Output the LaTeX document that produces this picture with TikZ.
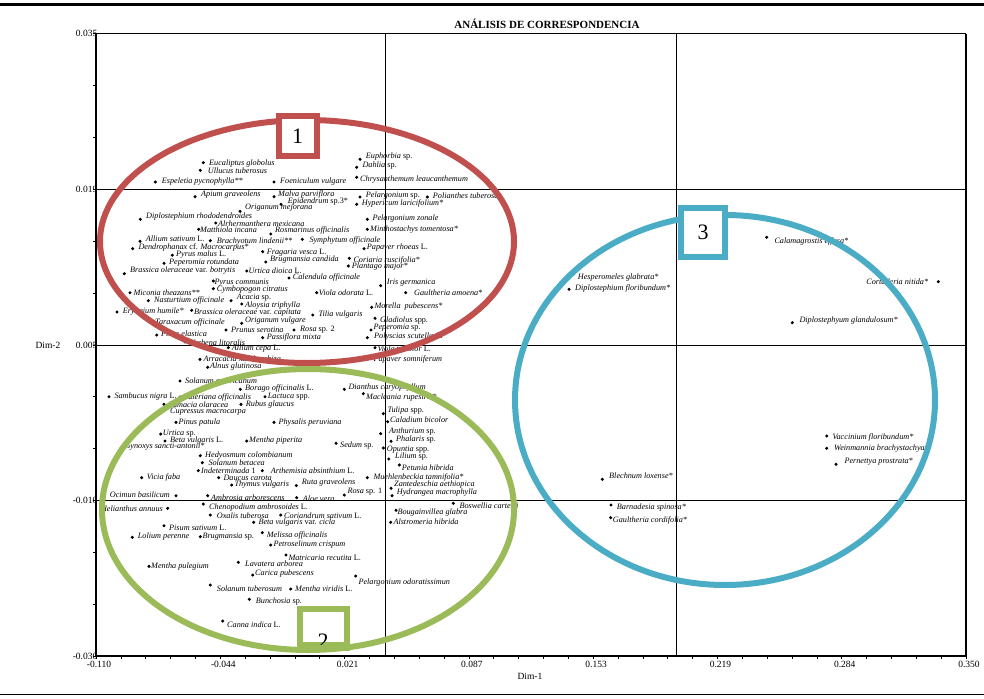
\documentclass[tikz,border=0pt]{standalone}
\usepackage{fontspec}
\setmainfont{Liberation Serif}
\definecolor{ered}{HTML}{C0504D}
\definecolor{egreen}{HTML}{9BBB59}
\definecolor{eblue}{HTML}{4BACC6}
\newcount\pc
\newcommand\up[1]{\textup{#1}}
\newcommand\spec[6][west]{\global\advance\pc by 1
  \node[dotn] (p\the\pc) at (#2,#3) {};
  \node[lab,anchor=#1] (l\the\pc) at (#4,#5) {#6};}
\begin{document}
\begin{tikzpicture}[x=1pt,y=-1pt,
  lab/.style={font=\fontsize{8.2}{9}\selectfont\itshape, inner sep=0pt},
  dotn/.style={circle,fill=black,inner sep=0pt,minimum size=3.4pt},
  tick/.style={font=\fontsize{9.5}{11}\selectfont, inner sep=0pt},
  grid/.style={line width=0.8pt},
  ell/.style={line width=6pt},
  numbox/.style={line width=6pt, fill=white, inner sep=0pt, font=\fontsize{22}{24}\selectfont}]
\useasboundingbox (0,0) rectangle (984,698);
\draw[line width=3pt] (0,4.5) -- (984,4.5);
\draw[line width=1pt] (0,694.5) -- (984,694.5);
% title
\node[font=\fontsize{11}{13}\selectfont\bfseries, inner sep=0pt] (title) at (547,24) {ANÁLISIS DE CORRESPONDENCIA};
% grid
\draw[grid] (96,189.3) -- (966,189.3);
\draw[grid] (96,345) -- (966,345);
\draw[grid] (96,500.5) -- (966,500.5);
\draw[grid] (385.7,33.7) -- (385.7,656);
\draw[grid] (676,33.7) -- (676,656);
% ticks
\foreach \i in {0,...,35} \draw[line width=0.7pt] (96+\i*24.857,656) -- ++(0,3);
\foreach \i in {0,...,12} \draw[line width=0.7pt] (96,33.7+\i*51.86) -- ++(-3,0);
% tick labels
\foreach \v [count=\k from 0] in {-0.110,-0.044,0.021,0.087,0.153,0.219,0.284,0.350}
  \node[tick] (xt\k) at (99+\k*124.29,664) {\v};
\foreach \v/\yy [count=\k] in {0.035/33.7,0.019/189.3,0.005/345,-0.010/500.5,-0.030/656}
  \node[tick,anchor=east] (yt\k) at (97.5,\yy) {\v};
\node[tick] (dim1) at (530,676) {Dim-1};
\node[tick] (dim2) at (48,345) {Dim-2};
% frame
\draw[line width=0.8pt] (96,33.7) -- (966,33.7);
\draw[line width=1.5pt] (96,33.7) -- (96,656) -- (966,656) -- (966,33.7);
% group 1
\spec{203.3}{162.7}{209}{164}{Eucaliptus globolus}
\spec{200.3}{170.3}{207.7}{171}{Ullucus tuberosus}
\spec{155.3}{182}{161.7}{182}{Espeletia pycnophylla**}
\spec{274}{182}{280}{182}{Foeniculum vulgare}
\spec{360}{159.3}{365.7}{156.5}{Euphorbia \up{sp.}}
\spec{356.7}{167.3}{362.3}{166}{Dahlia \up{sp.}}
\spec{356.7}{177.3}{360}{179.5}{Chrysanthemum leaucanthemum}
\spec{195}{196.7}{201}{194.5}{Apium graveolens}
\spec{274}{196.7}{278}{194.5}{Malva parviflora}
\spec{281}{204.3}{287.7}{201.5}{Epidendrum \up{sp.3*}}
\spec{360}{197}{365.7}{196}{Pelargonium \up{sp.}}
\spec{427.3}{197}{432.7}{196}{Polianthes tuberosa}
\spec{356.7}{204.3}{361.7}{203}{Hypericum laricifolium*}
\spec{240}{211.3}{245}{208}{Origanum mejorana}
\spec{140.3}{219.3}{146}{217}{Diplostephium rhododendroides}
\spec{215.7}{223}{218}{223.5}{Alrhermanthera mexicana}
\spec{367.3}{219.3}{372.3}{218.5}{Pelargonium zonale}
\spec{198.7}{229.3}{200}{230}{Matthiola incana}
\spec{270.7}{234}{275}{230}{Rosmarinus officinalis}
\spec{367.3}{229.3}{370}{230}{Minthostachys tomentosa*}
\spec{140}{241.3}{145.7}{239}{Allium sativum \up{L.}}
\spec{210.3}{240.7}{216.7}{242}{Brachyotum lindenii**}
\spec{302.3}{239.3}{309.3}{240}{Symphytum officinale}
\spec{132.7}{248.7}{138.3}{247}{Dendrophanax \up{cf.} Macrocarpus*}
\spec{364}{248.7}{366.7}{247.5}{Papaver rhoeas \up{L.}}
\spec{172.3}{255.2}{176}{255}{Pyrus malus \up{L.}}
\spec{262.7}{251.7}{266.7}{253}{Fragaria vesca \up{L.}}
\spec{265.7}{262}{270}{260}{Brugmansia candida}
\spec{349.3}{258.3}{353.3}{260.5}{Coriaria ruscifolia*}
\spec{164}{263.3}{169}{263}{Peperomia rotundata}
\spec{348.3}{266}{351.7}{267}{Plantago major*}
\spec{124.3}{273.7}{130}{270.5}{Brassica oleraceae \up{var.} botrytis}
\spec{246.7}{271}{248.3}{270.5}{Urtica dioica \up{L.}}
\spec{289}{278}{292.7}{277.5}{Calendula officinale}
\spec{213.3}{281}{214.3}{283}{Pyrus communis}
\spec{380.7}{285.7}{386.7}{283}{Iris germanica}
\spec{213.3}{288.7}{216.7}{289.5}{Cymbopogon citratus}
\spec{130}{292.7}{133.3}{293}{Miconia theazans**}
\spec{316.7}{292.7}{318.7}{293}{Viola odorata \up{L.}}
\spec{405.7}{292.7}{414}{293}{Gaultheria amoena*}
\spec{148.3}{300.7}{154}{300}{Nasturtium officinale}
\spec{231}{300.7}{236.7}{297.5}{Acacia \up{sp.}}
\spec{241.7}{304}{245}{305.5}{Aloysia triphylla}
\spec{371.7}{307.3}{374.3}{306.5}{Morella\ \ pubescens*}
\spec{117}{312}{122.7}{312}{Eryngium humile*}
\spec{191.7}{310.3}{194}{312.5}{Brassica oleraceae \up{var.} capitata}
\spec{312.7}{315}{318.3}{314.5}{Tilia vulgaris}
\spec{375}{318.3}{380}{320.5}{Gladiolus \up{spp.}}
\spec{150}{321}{155}{322}{Taraxacum officinale}
\spec{241.7}{323.3}{245}{320.5}{Origanum vulgare}
\spec{226}{330}{231}{330}{Prunus serotina}
\spec{294}{330}{300}{330}{Rosa \up{sp. 2}}
\spec{371}{330}{373.3}{328}{Peperomia \up{sp.}}
\spec{156.7}{335}{161}{334}{Ficus elastica}
\spec{262.7}{337.7}{266.7}{337}{Passiflora mixta}
\spec{367.3}{337.7}{374}{337}{Polyscias scutellaria}
\spec{185}{342}{190}{342.5}{Verbena litoralis}
\spec{228.3}{347.7}{231.7}{348.5}{Allium cepa \up{L.}}
\spec{375}{347.7}{377.3}{349}{Viola tricolor \up{L.}}
\spec{200}{359.3}{203.3}{359}{Arracacia xanthorrhiza}
\spec{367.3}{358.3}{373.3}{359}{Papaver somniferum}
\spec{207.7}{367.3}{210}{367}{Alnus glutinosa}
% group 2
\spec{180}{381}{185}{381}{Solanum americanum}
\spec{240.3}{389.3}{245}{388}{Borago officinalis \up{L.}}
\spec{344.3}{389.3}{348.3}{388}{Dianthus caryophyllum}
\spec{363.3}{393.7}{366}{397.5}{Macleania rupestris*}
\spec{109}{396.7}{114.3}{397}{Sambucus nigra \up{L.}}
\spec{180}{397}{184}{397}{Valeriana officinalis}
\spec{265}{396.7}{267.7}{396.5}{Lactuca \up{spp.}}
\spec{164}{404.3}{169}{404.5}{Tamacia olaracea}
\spec{241}{404.3}{245.7}{404.5}{Rubus glaucus}
\spec{163}{411}{170}{412}{Cupressus macrocarpa}
\spec{383.3}{413.7}{387.3}{411}{Tulipa \up{spp.}}
\spec{387.7}{421.7}{390}{419.5}{Caladium bicolor}
\spec{176}{422.3}{178.3}{423}{Pinus patula}
\spec{274}{422.3}{278.3}{423}{Physalis peruviana}
\spec{380.7}{433.7}{389}{432}{Anthurium \up{sp.}}
\spec{160.7}{434}{162.7}{434}{Urtica \up{sp.}}
\spec{391}{441.3}{396}{440}{Phalaris \up{sp.}}
\spec{165}{441}{170}{441}{Beta vulgaris \up{L.}}
\spec{246.7}{441}{249}{441}{Mentha piperita}
\spec{336}{443.3}{340}{446}{Sedum \up{sp.}}
\spec{121}{448}{124.3}{447}{Gynoxys sancti-antonii*}
\spec{383.3}{448}{386.7}{449.5}{Opuntia \up{spp.}}
\spec{200.3}{455.7}{205}{455.5}{Hedyosmum colombianum}
\spec{388.7}{459}{395}{456.5}{Lilium \up{sp.}}
\spec{202.3}{462.7}{208.3}{462.5}{Solanum betacea}
\spec{399.3}{465}{401.7}{468}{Petunia hibrida}
\spec{198.3}{470.7}{201}{470.5}{Indeterminada \up{1}}
\spec{262.3}{470.7}{270.7}{470.5}{Arthemisia absinthium \up{L.}}
\spec{367.3}{477.7}{373.3}{477}{Muehlenbeckia tamnifolia*}
\spec{141.7}{477.7}{146.7}{477.5}{Vicia faba}
\spec{218.7}{477.7}{223.3}{477.5}{Daucus carota}
\spec{231.7}{485}{234.3}{485}{Thymus vulgaris}
\spec{296.3}{485.5}{301.7}{482.5}{Ruta graveolens}
\spec{391}{488.3}{394}{485}{Zantedeschia aethiopica}
\spec[east]{176}{495.7}{170}{495}{Ocimun basilicum}
\spec{207.7}{495.7}{211}{497.5}{Ambrosia arborescens}
\spec{296.7}{497.7}{302.7}{498.5}{Aloe vera}
\spec{344.3}{495}{347.3}{492}{Rosa \up{sp. 1}}
\spec{392}{495.7}{396.7}{492.5}{Hydrangea macrophylla}
\spec{453.3}{503.3}{459.3}{505.5}{Boswellia carterii}
\spec[east]{167.7}{508.3}{163}{508.5}{Helianthus annuus}
\spec{203.3}{504}{209}{508}{Chenopodium ambrosoides \up{L.}}
\spec{396}{510.3}{397.3}{512.5}{Bougainvillea glabra}
\spec{210.3}{515}{216.7}{515.5}{Oxalis tuberosa}
\spec{280.7}{515}{284}{515.5}{Coriandrum sativum \up{L.}}
\spec{253.7}{522.3}{258.3}{522.5}{Beta vulgaris \up{var.} cicla}
\spec{390.7}{522.3}{393.3}{522}{Alstromeria hibrida}
\spec{164}{525.7}{169}{528}{Pisum sativum \up{L.}}
\spec{262.3}{532.7}{266.7}{535.5}{Melissa officinalis}
\spec{132.3}{537.3}{137.7}{537}{Lolium perenne}
\spec{200.3}{536.7}{202.3}{537}{Brugmansia \up{sp.}}
\spec{270.7}{545}{273.3}{544.5}{Petroselinum crispum}
\spec{286}{555}{288.3}{557.5}{Matricaria recutita \up{L.}}
\spec{238.3}{562.3}{245}{564}{Lavatera arborea}
\spec{149}{566.3}{151}{567}{Mentha pulegium}
\spec{252.7}{575}{255}{574}{Carica pubescens}
\spec{355.7}{576}{358.3}{583}{Pelargonium odoratissimun}
\spec{210.3}{585}{216.7}{589}{Solanum tuberosum}
\spec{290.7}{589}{295}{588.5}{Mentha viridis \up{L.}}
\spec{249.3}{599.3}{255.7}{601.5}{Bunchosia \up{sp.}}
\spec{222.7}{621}{227}{625}{Canna indica \up{L.}}
% group 3
\spec{766.7}{237.3}{774.3}{241.5}{Calamagrostis effusa*}
\spec{569}{277.7}{577.7}{278}{Hesperomeles glabrata*}
\spec{569}{289.3}{575}{288.5}{Diplostephium floribundum*}
\spec[east]{938.3}{281.7}{928.3}{282}{Cortaderia nitida*}
\spec{792.3}{322.7}{799.3}{321}{Diplostephyum glandulosum*}
\spec{826.7}{436}{832.3}{437}{Vaccinium floribundum*}
\spec{826.7}{448.3}{834}{449}{Weinmannia brachystachya*}
\spec{836}{464.3}{844.3}{462}{Pernettya prostrata*}
\spec{602.3}{479.3}{609}{476}{Blechnum loxense*}
\spec{611}{505}{616.7}{508}{Barnadesia spinosa*}
\spec{610.7}{517.7}{612.7}{520}{Gaultheria cordifolia*}
% ellipses
\draw[ell,ered] (307,241.5) ellipse [x radius=207, y radius=121.5];
\draw[ell,egreen] (308,509.5) ellipse [x radius=206, y radius=140.5];
\draw[ell,eblue] (725,400) ellipse [x radius=210, y radius=185];
% boxes
\node[numbox,draw=ered,minimum width=38pt,minimum height=39pt] (b1) at (297.5,136) {1};
\node[numbox,draw=egreen,minimum width=47pt,minimum height=36pt] (b2) at (323,627) {};
\node[font=\fontsize{22}{24}\selectfont, inner sep=0pt] (t2) at (323,641) {2};
\draw[egreen,line width=6pt] (b2.south west) -- (b2.south east);
\node[numbox,draw=eblue,minimum width=44pt,minimum height=49pt] (b3) at (703,232.5) {3};
\end{tikzpicture}
\end{document}
